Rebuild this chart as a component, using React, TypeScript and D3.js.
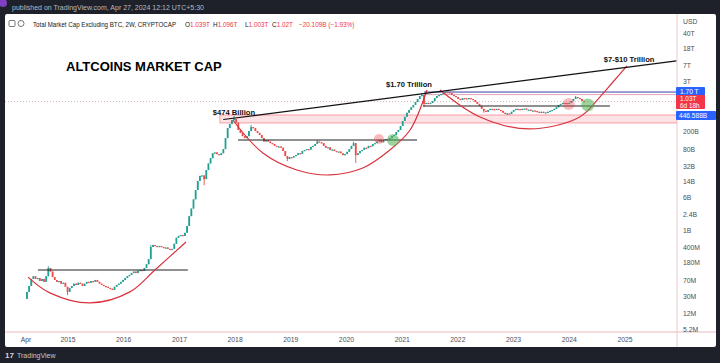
import * as d3 from 'd3';
import React from 'react';

// 2W candles of CRYPTOCAP:TOTAL2, closes in billions USD
const firstBarDate = new Date(2014, 3, 7);
const firstOpenB = 0.026;
const closesB = [
  0.038, 0.052, 0.076, 0.088, 0.076, 0.080, 0.068, 0.076, 0.065, 0.088, 0.137, 0.113, 0.084, 0.072, 0.065, 0.068, 0.059, 0.062, 0.050, 0.038,
  0.047, 0.052, 0.059, 0.055, 0.062, 0.059, 0.052, 0.059, 0.065, 0.062, 0.068, 0.065, 0.072, 0.065, 0.059, 0.055, 0.052, 0.050, 0.047, 0.045,
  0.042, 0.050, 0.055, 0.059, 0.065, 0.072, 0.080, 0.088, 0.094, 0.104, 0.113, 0.104, 0.118, 0.123, 0.118, 0.137, 0.167, 0.220, 0.420, 0.469,
  0.445, 0.420, 0.445, 0.420, 0.400, 0.410, 0.380, 0.359, 0.380, 0.500, 0.690, 0.760, 0.800, 0.760, 0.900, 1.30, 2.2, 3.3, 5.4, 8.9,
  14.5, 19, 19.5, 16, 26, 37, 49, 64, 67, 61, 58, 64, 80, 144, 246, 305, 380, 400, 330, 222,
  190, 160, 144, 160, 210, 260, 246, 210, 190, 170, 144, 120, 130, 120, 110, 105, 95, 90, 92, 86,
  72, 55, 47, 52, 51, 55, 58, 64, 62, 72, 76, 80, 78, 90, 95, 105, 120, 115, 110, 95,
  86, 88, 76, 78, 72, 69, 70, 64, 58, 61, 69, 80, 95, 110, 58, 64, 72, 76, 86, 84,
  95, 93, 105, 110, 120, 130, 115, 130, 137, 135, 144, 160, 170, 200, 222, 275, 360, 450, 560, 650,
  750, 849, 1000, 1170, 1370, 1450, 900, 950, 900, 950, 1050, 1230, 1370, 1450, 1530, 1600, 1690, 1680, 1600, 1450,
  1370, 1300, 1170, 1110, 1230, 1210, 1170, 1230, 1170, 1110, 1000, 900, 810, 690, 620, 590, 650, 690, 680, 650,
  690, 650, 620, 560, 530, 540, 525, 590, 650, 690, 680, 650, 690, 700, 650, 660, 620, 630, 615, 590,
  560, 590, 560, 570, 590, 620, 650, 690, 750, 849, 900, 950, 940, 900, 950, 1050, 1170, 1300, 1230, 1170,
  1050, 1020,
];
// notable wicks: bar index -> high / low (billions)
const wickHighs = [
  { i: 10, v: 0.15 }, { i: 58, v: 0.47 }, { i: 97, v: 474 }, { i: 105, v: 290 }, { i: 136, v: 130 },
  { i: 153, v: 118 }, { i: 185, v: 1560 }, { i: 197, v: 1720 }, { i: 257, v: 1380 },
];
const wickLows = [
  { i: 19, v: 0.032 }, { i: 83, v: 11.5 }, { i: 122, v: 42 }, { i: 154, v: 38 }, { i: 186, v: 760 },
  { i: 214, v: 560 }, { i: 225, v: 500 },
];

const yTickLabels = ['40T', '18T', '7T', '3T', '200B', '80B', '32B', '14B', '6B', '2.4B', '1B', '400M', '180M', '70M', '30M', '12M', '5.2M'];
const yTickValues = [40e12, 18e12, 7e12, 3e12, 200e9, 80e9, 32e9, 14e9, 6e9, 2.4e9, 1e9, 400e6, 180e6, 70e6, 30e6, 12e6, 5.2e6];
const xTickLabels = ['Apr', '2015', '2016', '2017', '2018', '2019', '2020', '2021', '2022', '2023', '2024', '2025'];
const xTickDates = [new Date(2014, 3, 1), ...d3.range(2015, 2026).map((yr) => new Date(yr, 0, 1))];

// drawings on the chart, in date / value space
const trendLine = [
  { date: new Date(2017, 9, 15), v: 390e9 },
  { date: new Date(2025, 11, 5), v: 9.0e12 },
];
const levelLines = [
  { from: new Date(2014, 5, 18), to: new Date(2017, 1, 25), v: 123e6 },
  { from: new Date(2018, 0, 20), to: new Date(2021, 3, 8), v: 130e9 },
  { from: new Date(2021, 4, 17), to: new Date(2024, 8, 24), v: 805e9 },
];
const cupOne = [
  { date: new Date(2014, 3, 14), v: 84e6 },
  { date: new Date(2014, 8, 4), v: 36e6 },
  { date: new Date(2015, 4, 25), v: 21e6 },
  { date: new Date(2016, 1, 11), v: 38e6 },
  { date: new Date(2016, 6, 24), v: 123e6 },
  { date: new Date(2017, 1, 13), v: 551e6 },
];
const cupTwo = [
  { date: new Date(2017, 11, 17), v: 380e9 },
  { date: new Date(2018, 6, 2), v: 64.8e9 },
  { date: new Date(2019, 1, 10), v: 26.1e9 },
  { date: new Date(2019, 8, 15), v: 20e9 },
  { date: new Date(2020, 3, 17), v: 29e9 },
  { date: new Date(2020, 9, 12), v: 76e9 },
  { date: new Date(2021, 1, 21), v: 222e9 },
  { date: new Date(2021, 5, 12), v: 1.9e12 },
];
const cupThree = [
  { date: new Date(2021, 8, 5), v: 1.9e12 },
  { date: new Date(2022, 4, 26), v: 447e9 },
  { date: new Date(2023, 3, 17), v: 235e9 },
  { date: new Date(2024, 2, 10), v: 447e9 },
  { date: new Date(2024, 6, 20), v: 1.3e12 },
  { date: new Date(2024, 9, 14), v: 2.91e12 },
  { date: new Date(2025, 0, 14), v: 6.87e12 },
];
const zone = { from: new Date(2017, 8, 23), low: 324e9, high: 497e9 };
const athLine = { from: new Date(2021, 4, 25), v: 1.7e12 };
const athLineLow = { from: new Date(2021, 4, 25), v: 1.48e12 };
const lastPrice = 1.02e12;
const circles = [
  { date: new Date(2020, 7, 1), v: 137e9, kind: 'red', r: 5 },
  { date: new Date(2020, 10, 1), v: 130e9, kind: 'green', r: 6 },
  { date: new Date(2023, 11, 29), v: 895e9, kind: 'red', r: 6 },
  { date: new Date(2024, 4, 2), v: 849e9, kind: 'green', r: 6.5 },
];
const notes = [
  { text: '$474 Billion', date: new Date(2017, 7, 8), v: 497e9 },
  { text: '$1.70 Trillion', date: new Date(2020, 8, 16), v: 2.23e12 },
  { text: '$7-$10 Trillion', date: new Date(2024, 7, 15), v: 8.5e12 },
];

const FONT = '"Liberation Sans", Arial, sans-serif';
const UP = '#22a094';
const DOWN = '#ec4b4b';

export default function App() {
  const plotLeft = 5;
  const axisX = 677;
  const plotTop = 14;
  const axisY = 332;

  const x = d3.scaleTime().domain([new Date(2015, 0, 1), new Date(2025, 0, 1)]).range([68, 625]);
  const y = d3.scaleLog().domain([5.2e6, 18e12]).range([329, 48]);

  const bars = closesB.map((c, i) => {
    const close = c * 1e9;
    const open = i === 0 ? firstOpenB * 1e9 : closesB[i - 1] * 1e9;
    const hi = wickHighs.find((w) => w.i === i);
    const lo = wickLows.find((w) => w.i === i);
    return {
      date: d3.timeDay.offset(firstBarDate, 14 * i),
      open,
      close,
      high: Math.max(open, close, hi ? hi.v * 1e9 : 0),
      low: Math.min(open, close, lo ? lo.v * 1e9 : Infinity),
    };
  });

  const curve = d3
    .line<{ date: Date; v: number }>()
    .x((d) => x(d.date))
    .y((d) => y(d.v))
    .curve(d3.curveCatmullRom.alpha(0.5));

  const pathFor = (pts: { date: Date; v: number }[]) => curve(pts) || '';

  return (
    <svg width={720} height={363} style={{ position: 'absolute', left: 0, top: 0, display: 'block' }} fontFamily={FONT}>
      <defs>
        <clipPath id="plot">
          <rect x={plotLeft} y={plotTop} width={axisX - plotLeft} height={axisY - plotTop} />
        </clipPath>
      </defs>
      <rect x={0} y={0} width={720} height={363} fill="#1e2129" />
      <circle cx={3} cy={3} r={4} fill="#7e3fc0" />
      <text x={12} y={9.5} fontSize={7} fill="#b7bac2">
        published on TradingView.com, Apr 27, 2024 12:12 UTC+5:30
      </text>
      <rect x={plotLeft} y={plotTop} width={716 - plotLeft} height={347 - plotTop} fill="#ffffff" rx={2} />

      {/* header */}
      <rect x={9} y={20.5} width={6} height={6} rx={1} fill="none" stroke="#555" strokeWidth={0.8} />
      <rect x={18} y={20.5} width={6} height={6} rx={3} fill="none" stroke="#555" strokeWidth={0.8} />
      <text x={33} y={26.5} fontSize={6.5} fill="#131722" textLength={143} lengthAdjust="spacingAndGlyphs">
        Total Market Cap Excluding BTC, 2W, CRYPTOCAP
      </text>
      <text y={26.5} fontSize={6.4} fill="#131722">
        <tspan x={185}>O</tspan>
        <tspan fill="#f23645">1.039T</tspan>
        <tspan x={213}>H</tspan>
        <tspan fill="#f23645">1.096T</tspan>
        <tspan x={245}>L</tspan>
        <tspan fill="#f23645">1.003T</tspan>
        <tspan x={272}>C</tspan>
        <tspan fill="#f23645">1.02T</tspan>
        <tspan x={299} fill="#f23645">−20.109B (−1.93%)</tspan>
      </text>

      <g clipPath="url(#plot)">
        {/* pink zone */}
        <rect
          x={x(zone.from)}
          y={y(zone.high)}
          width={axisX - x(zone.from)}
          height={y(zone.low) - y(zone.high)}
          fill="rgba(242,54,69,0.14)"
          stroke="rgba(242,54,69,0.55)"
          strokeWidth={0.8}
        />
        {/* ATH lines */}
        <line x1={x(athLine.from)} x2={axisX} y1={y(athLine.v)} y2={y(athLine.v)} stroke="#3d3da8" strokeWidth={1} />
        <line x1={x(athLineLow.from)} x2={axisX} y1={y(athLineLow.v)} y2={y(athLineLow.v)} stroke="#d98aa0" strokeWidth={0.8} />
        {/* last price line */}
        <line x1={plotLeft} x2={axisX} y1={y(lastPrice)} y2={y(lastPrice)} stroke="#c9a0a4" strokeWidth={0.8} strokeDasharray="1,2" />

        {/* candles */}
        {bars.map((b, i) => {
          const cx = x(b.date);
          const up = b.close >= b.open;
          const top = y(Math.max(b.open, b.close));
          const bot = y(Math.min(b.open, b.close));
          const color = up ? UP : DOWN;
          return (
            <g key={i}>
              <line x1={cx} x2={cx} y1={y(b.high)} y2={y(b.low)} stroke={color} strokeWidth={0.9} />
              <rect x={cx - 0.9} y={top} width={1.8} height={Math.max(1.2, bot - top)} fill={color} />
            </g>
          );
        })}

        {/* level lines */}
        {levelLines.map((l, i) => (
          <line key={i} x1={x(l.from)} x2={x(l.to)} y1={y(l.v)} y2={y(l.v)} stroke="#222" strokeWidth={1.1} />
        ))}

        {/* cups */}
        {[cupOne, cupTwo, cupThree].map((c, i) => (
          <path key={i} d={pathFor(c)} fill="none" stroke="#d8343f" strokeWidth={1.2} />
        ))}

        {/* trend line */}
        <line
          x1={x(trendLine[0].date)}
          y1={y(trendLine[0].v)}
          x2={x(trendLine[1].date)}
          y2={y(trendLine[1].v)}
          stroke="#111"
          strokeWidth={1.2}
        />

        {circles.map((c, i) => (
          <circle
            key={i}
            cx={x(c.date)}
            cy={y(c.v)}
            r={c.r}
            fill={c.kind === 'red' ? 'rgba(242,54,69,0.35)' : 'rgba(76,175,80,0.55)'}
          />
        ))}
      </g>

      {/* annotations */}
      <text x={66} y={71} fontSize={13} fontWeight="bold" fill="#000">
        ALTCOINS MARKET CAP
      </text>
      {notes.map((n, i) => (
        <text key={i} x={x(n.date)} y={y(n.v)} fontSize={7.6} fontWeight="bold" fill="#111">
          {n.text}
        </text>
      ))}

      {/* axes frame */}
      <line x1={axisX} x2={axisX} y1={plotTop} y2={347} stroke="#e9c9cb" strokeWidth={1} />
      <line x1={plotLeft} x2={716} y1={axisY} y2={axisY} stroke="#e9b9bd" strokeWidth={1} />

      {/* y axis */}
      {yTickValues.map((v, i) => (
        <text key={i} x={683} y={y(v) + 2.5} fontSize={6.8} fill="#4a4e58">
          {yTickLabels[i]}
        </text>
      ))}
      <rect x={678} y={15} width={37} height={12} fill="#ffffff" />
      <text x={683} y={24} fontSize={6.8} fill="#4a4e58">USD</text>

      {/* price labels on axis */}
      <rect x={676} y={y(athLine.v) - 5} width={29} height={9} fill="#2962ff" rx={1} />
      <text x={680} y={y(athLine.v) + 2} fontSize={6.6} fill="#fff">1.70 T</text>
      <rect x={676} y={95} width={29} height={14} fill="#f23645" rx={1} />
      <text x={680} y={101} fontSize={6.4} fill="#fff">1.03T</text>
      <text x={680} y={107.5} fontSize={6.4} fill="#fff">6d 18h</text>
      <rect x={676} y={y(zone.high) - 4} width={40} height={9} fill="#2962ff" rx={1} />
      <text x={679} y={y(zone.high) + 3} fontSize={6.6} fill="#fff">446.588B</text>

      {/* x axis */}
      {xTickDates.map((d, i) => (
        <text key={i} x={x(d)} y={342} fontSize={6.8} fill="#4a4e58" textAnchor="middle">
          {xTickLabels[i]}
        </text>
      ))}

      {/* footer */}
      <text x={5} y={358} fontSize={8} fontWeight="bold" fill="#d1d4dc">17</text>
      <text x={17} y={358} fontSize={7} fill="#c4c7cf">TradingView</text>
    </svg>
  );
}
